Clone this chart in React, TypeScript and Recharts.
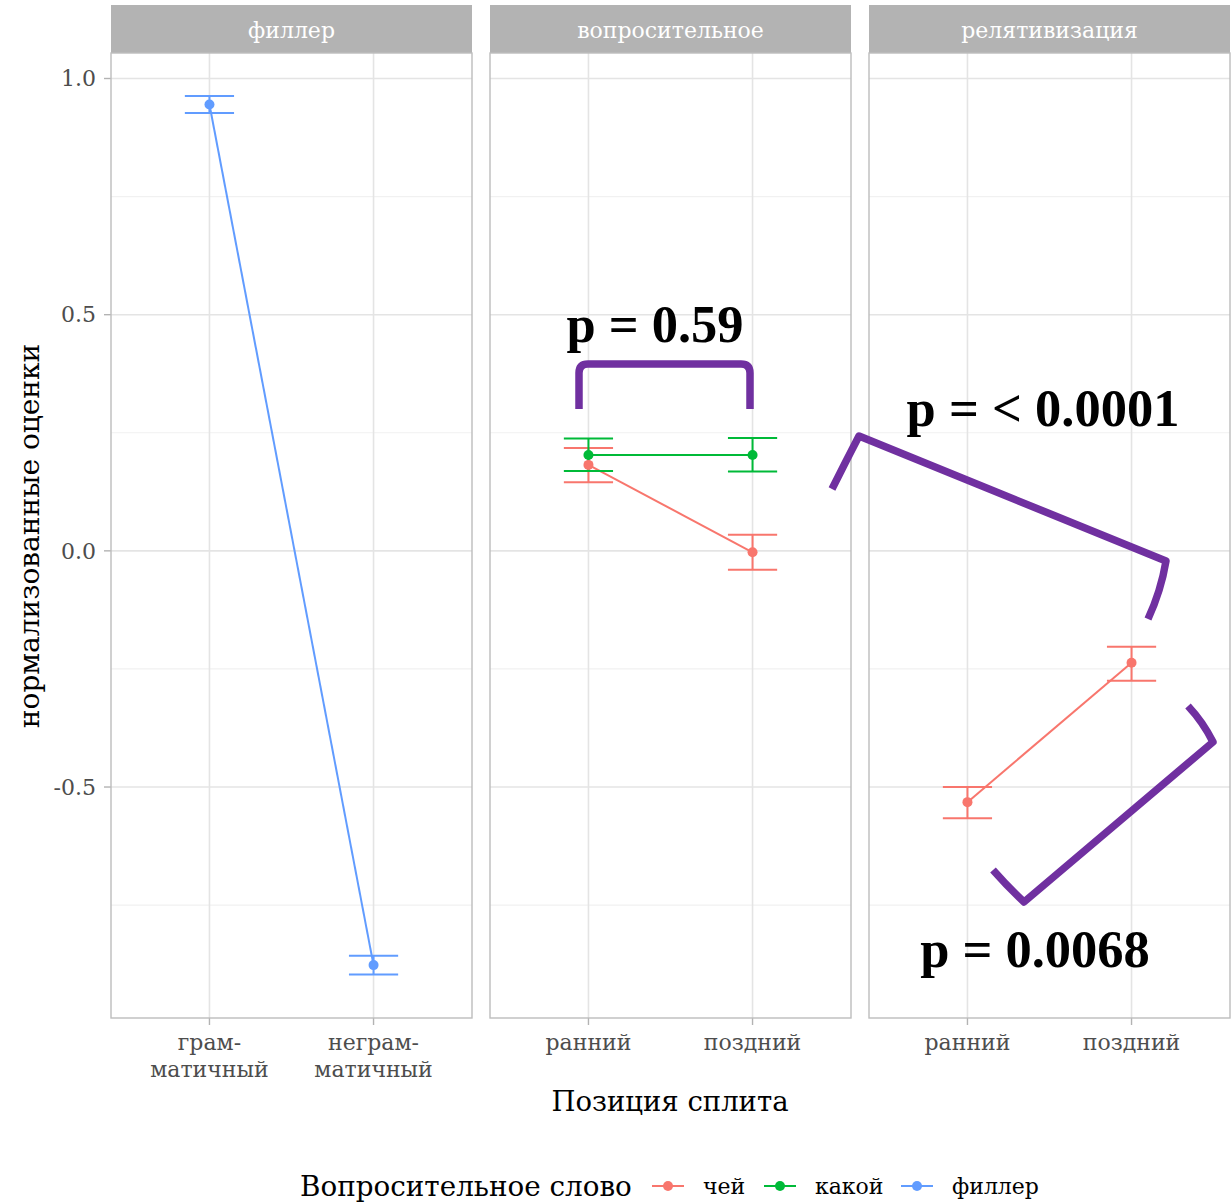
import React from 'react';
import { LineChart, Line, XAxis, YAxis, ErrorBar, ReferenceLine } from 'recharts';

// ---- data ----
const panelTitles = ['филлер', 'вопросительное', 'релятивизация'];
const fillerLabels = [['грам-', 'матичный'], ['неграм-', 'матичный']];
const positionLabels = [['ранний'], ['поздний']];

const yMajorTicks = [-0.5, 0, 0.5, 1.0];
const yMinorTicks = [-0.75, -0.25, 0.25, 0.75];

// филлер
const fillerMean = [0.945, -0.877];
const fillerLow = [0.927, -0.897];
const fillerHigh = [0.963, -0.857];

// вопросительное: чей
const questChejMean = [0.182, -0.003];
const questChejLow = [0.145, -0.040];
const questChejHigh = [0.218, 0.034];

// вопросительное: какой
const questKakoiMean = [0.203, 0.203];
const questKakoiLow = [0.169, 0.168];
const questKakoiHigh = [0.238, 0.239];

// релятивизация: чей
const relChejMean = [-0.532, -0.237];
const relChejLow = [-0.566, -0.275];
const relChejHigh = [-0.500, -0.203];

const legendItems = [
  { name: 'чей', color: '#F8766D' },
  { name: 'какой', color: '#00BA38' },
  { name: 'филлер', color: '#619CFF' },
];

const brackets = [
  { label: 'p = 0.59', path: 'M579,409 L579,373 Q579,364 588,364 L741,364 Q750,364 750,373 L750,409', tx: 655, ty: 342 },
  { label: 'p = < 0.0001', path: 'M832,489 Q846,461 859,436 L1166,561 Q1161,591 1148,619', tx: 1043, ty: 426 },
  { label: 'p = 0.0068', path: 'M1188,706 Q1203,722 1213,742 L1024,902 Q1008,887 993,870', tx: 1035, ty: 967 },
];

// ---- layout ----
const FONT = '"DejaVu Serif", serif';
const Y_DOMAIN: [number, number] = [-0.989, 1.054];
const X_DOMAIN: [number, number] = [0.4, 2.6];
const PANEL_TOP = 53;
const PANEL_BOTTOM = 1018;
const CHART_H = 1100;
const X_AXIS_H = 60;
const PANEL_W = 361;
const panelLefts = [111, 490, 869];
const GRID_MAJOR = '#E4E4E4';
const GRID_MINOR = '#F1F1F1';
const PURPLE = '#7030A0';

type Row = { [k: string]: number | number[] };

function seriesRows(key: string, mean: number[], low: number[], high: number[]) {
  return mean.map((m, i) => ({
    [key]: m,
    [key + 'Err']: [m - low[i], high[i] - m],
  }));
}

function mergeRows(...groups: Row[][]): Row[] {
  return groups[0].map((_, i) => {
    const row: Row = { pos: i + 1 };
    groups.forEach((g) => Object.assign(row, g[i]));
    return row;
  });
}

const fillerData = mergeRows(seriesRows('filler', fillerMean, fillerLow, fillerHigh));
const questData = mergeRows(
  seriesRows('chej', questChejMean, questChejLow, questChejHigh),
  seriesRows('kakoi', questKakoiMean, questKakoiLow, questKakoiHigh)
);
const relData = mergeRows(seriesRows('chej', relChejMean, relChejLow, relChejHigh));

const XTick = (props: any) => {
  const { x, y, payload, labels } = props;
  const lines: string[] = labels[Math.round(payload.value) - 1] || [];
  return (
    <text x={x} y={y} textAnchor="middle" fill="#4D4D4D" fontSize={22} fontFamily={FONT}>
      {lines.map((t, i) => (
        <tspan key={i} x={x} dy={i === 0 ? 17 : 27}>
          {t}
        </tspan>
      ))}
    </text>
  );
};

type SeriesDef = { key: string; color: string };

function Panel({
  left,
  data,
  series,
  labels,
  showY,
}: {
  left: number;
  data: Row[];
  series: SeriesDef[];
  labels: string[][];
  showY: boolean;
}) {
  const yAxisW = showY ? left : 0;
  const chartLeft = showY ? 0 : left;
  return (
    <div style={{ position: 'absolute', left: chartLeft, top: 0 }}>
      <LineChart
        width={PANEL_W + yAxisW}
        height={CHART_H}
        data={data}
        margin={{ top: PANEL_TOP, right: 0, left: 0, bottom: CHART_H - PANEL_BOTTOM - X_AXIS_H }}
      >
        <XAxis
          dataKey="pos"
          type="number"
          domain={X_DOMAIN}
          ticks={[1, 2]}
          allowDataOverflow
          height={X_AXIS_H}
          axisLine={false}
          tickSize={7}
          tickMargin={8}
          tickLine={{ stroke: '#B3B3B3', strokeWidth: 1.4 }}
          tick={<XTick labels={labels} />}
          interval={0}
        />
        <YAxis
          type="number"
          domain={Y_DOMAIN}
          ticks={yMajorTicks}
          allowDataOverflow
          hide={!showY}
          width={yAxisW}
          axisLine={false}
          tickSize={7}
          tickMargin={8}
          tickLine={{ stroke: '#B3B3B3', strokeWidth: 1.4 }}
          tick={{ fill: '#4D4D4D', fontSize: 22, fontFamily: FONT }}
          tickFormatter={(v: number) => v.toFixed(1)}
          interval={0}
        />
        {yMinorTicks.map((v) => (
          <ReferenceLine key={'mn' + v} y={v} stroke={GRID_MINOR} strokeWidth={1.2} />
        ))}
        {yMajorTicks.map((v) => (
          <ReferenceLine key={'mj' + v} y={v} stroke={GRID_MAJOR} strokeWidth={1.6} />
        ))}
        {[1, 2].map((v) => (
          <ReferenceLine key={'vx' + v} x={v} stroke={GRID_MAJOR} strokeWidth={1.6} />
        ))}
        {series.map((s) => (
          <Line
            key={s.key}
            dataKey={s.key}
            stroke={s.color}
            strokeWidth={2}
            dot={{ r: 5, fill: s.color, stroke: s.color, strokeWidth: 0 }}
            isAnimationActive={false}
          >
            <ErrorBar
              dataKey={s.key + 'Err'}
              direction="y"
              width={24.6}
              stroke={s.color}
              strokeWidth={2}
              isAnimationActive={false}
            />
          </Line>
        ))}
      </LineChart>
    </div>
  );
}

export default function App() {
  const legendX = [652, 764, 901];
  return (
    <div
      style={{
        position: 'absolute',
        left: 0,
        top: 0,
        width: 1231,
        height: 1202,
        background: '#fff',
        fontFamily: FONT,
        overflow: 'hidden',
      }}
    >
      <Panel
        left={panelLefts[0]}
        data={fillerData}
        series={[{ key: 'filler', color: legendItems[2].color }]}
        labels={fillerLabels}
        showY
      />
      <Panel
        left={panelLefts[1]}
        data={questData}
        series={[
          { key: 'chej', color: legendItems[0].color },
          { key: 'kakoi', color: legendItems[1].color },
        ]}
        labels={positionLabels}
        showY={false}
      />
      <Panel
        left={panelLefts[2]}
        data={relData}
        series={[{ key: 'chej', color: legendItems[0].color }]}
        labels={positionLabels}
        showY={false}
      />

      {/* facet strips */}
      {panelTitles.map((t, i) => (
        <div
          key={t}
          style={{
            position: 'absolute',
            left: panelLefts[i],
            top: 5,
            width: PANEL_W,
            height: PANEL_TOP - 5,
            background: '#B3B3B3',
            color: '#fff',
            fontSize: 22,
            lineHeight: PANEL_TOP - 1 + 'px',
            textAlign: 'center',
            overflow: 'hidden',
          }}
        >
          {t}
        </div>
      ))}

      <svg
        width={1231}
        height={1202}
        style={{ position: 'absolute', left: 0, top: 0, pointerEvents: 'none' }}
      >
        {/* panel borders */}
        {panelLefts.map((x) => (
          <rect
            key={x}
            x={x}
            y={PANEL_TOP}
            width={PANEL_W}
            height={PANEL_BOTTOM - PANEL_TOP}
            fill="none"
            stroke="#BDBDBD"
            strokeWidth={1.4}
          />
        ))}

        {/* axis titles */}
        <text
          transform="translate(39,536) rotate(-90)"
          textAnchor="middle"
          fontSize={28}
          fontFamily={FONT}
          fill="#000"
        >
          нормализованные оценки
        </text>
        <text x={670} y={1111} textAnchor="middle" fontSize={27.5} fontFamily={FONT} fill="#000">
          Позиция сплита
        </text>

        {/* legend */}
        <text x={300} y={1196} fontSize={27.8} fontFamily={FONT} fill="#000">
          Вопросительное слово
        </text>
        {legendItems.map((it, i) => (
          <g key={it.name}>
            <line x1={legendX[i]} x2={legendX[i] + 32} y1={1186} y2={1186} stroke={it.color} strokeWidth={2} />
            <circle cx={legendX[i] + 16} cy={1186} r={5} fill={it.color} />
            <text x={legendX[i] + 51} y={1194} fontSize={22} fontFamily={FONT} fill="#000">
              {it.name}
            </text>
          </g>
        ))}

        {/* significance brackets */}
        {brackets.map((b) => (
          <g key={b.label}>
            <path d={b.path} fill="none" stroke={PURPLE} strokeWidth={7.5} strokeLinejoin="round" />
            <text
              x={b.tx}
              y={b.ty}
              textAnchor="middle"
              fontSize={52.5}
              fontWeight="bold"
              fontFamily='"Liberation Serif", "Times New Roman", serif'
              fill="#000"
            >
              {b.label}
            </text>
          </g>
        ))}
      </svg>
    </div>
  );
}
